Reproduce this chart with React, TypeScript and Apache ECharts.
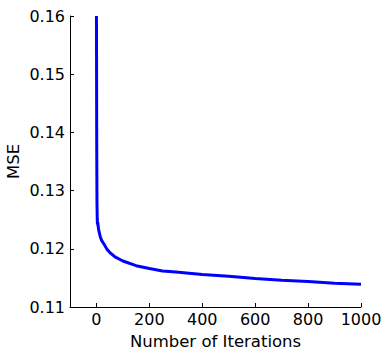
import React, { useEffect, useRef } from "react";
import * as echarts from "echarts";

const iterations = [0, 1, 2, 3, 4, 5, 6, 8, 10, 15, 20, 30, 40, 50, 70, 100, 150, 200, 250, 300, 400, 500, 600, 700, 800, 900, 1000];
const mse = [0.16, 0.138, 0.128, 0.125, 0.1242, 0.1246, 0.124, 0.1234, 0.1229, 0.122, 0.1214, 0.1207, 0.1199, 0.1194, 0.1186, 0.1179, 0.1171, 0.1166, 0.1162, 0.116, 0.1156, 0.1153, 0.1149, 0.1146, 0.1144, 0.1141, 0.1139];
const xTicks = [0, 200, 400, 600, 800, 1000];

export default function App() {
  const ref = useRef<HTMLDivElement>(null);
  useEffect(() => {
    const chart = echarts.init(ref.current!, null, { renderer: "svg" });
    const font = "DejaVu Sans";
    chart.setOption({
      animation: false,
      backgroundColor: "#ffffff",
      textStyle: { fontFamily: font },
      grid: { left: 70, right: 29, top: 16, bottom: 51, containLabel: false, outerBoundsMode: "none" },
      xAxis: {
        type: "value",
        min: -100,
        max: 1000,
        name: "Number of Iterations",
        nameLocation: "middle",
        nameGap: 26,
        nameMoveOverlap: false,
        nameTextStyle: { fontSize: 16.5, color: "#000", fontFamily: font },
        axisLine: { show: true, onZero: false, lineStyle: { color: "#000", width: 1 } },
        axisTick: { show: true, inside: true, length: 4, customValues: xTicks, lineStyle: { color: "#000" } },
        axisLabel: { customValues: xTicks, fontSize: 16, color: "#000", margin: 4, fontFamily: font, formatter: (v: number) => String(v) },
        splitLine: { show: false },
      },
      yAxis: {
        type: "value",
        min: 0.11,
        max: 0.16,
        interval: 0.01,
        name: "MSE",
        nameLocation: "middle",
        nameGap: 48,
        nameMoveOverlap: false,
        nameTextStyle: { fontSize: 16.5, color: "#000", fontFamily: font },
        axisLine: { show: true, onZero: false, lineStyle: { color: "#000", width: 1 } },
        axisTick: { show: true, inside: true, length: 4, lineStyle: { color: "#000" } },
        axisLabel: { fontSize: 16, color: "#000", margin: 5, fontFamily: font, formatter: (v: number) => v.toFixed(2) },
        splitLine: { show: false },
      },
      series: [
        {
          type: "line",
          data: iterations.map((x, i) => [x, mse[i]]),
          showSymbol: false,
          smooth: false,
          lineStyle: { color: "#0000ff", width: 3 },
          clip: true,
        },
      ],
    });
    return () => chart.dispose();
  }, []);
  return <div ref={ref} style={{ width: 390, height: 358, position: "absolute", left: 0, top: 0 }} />;
}
